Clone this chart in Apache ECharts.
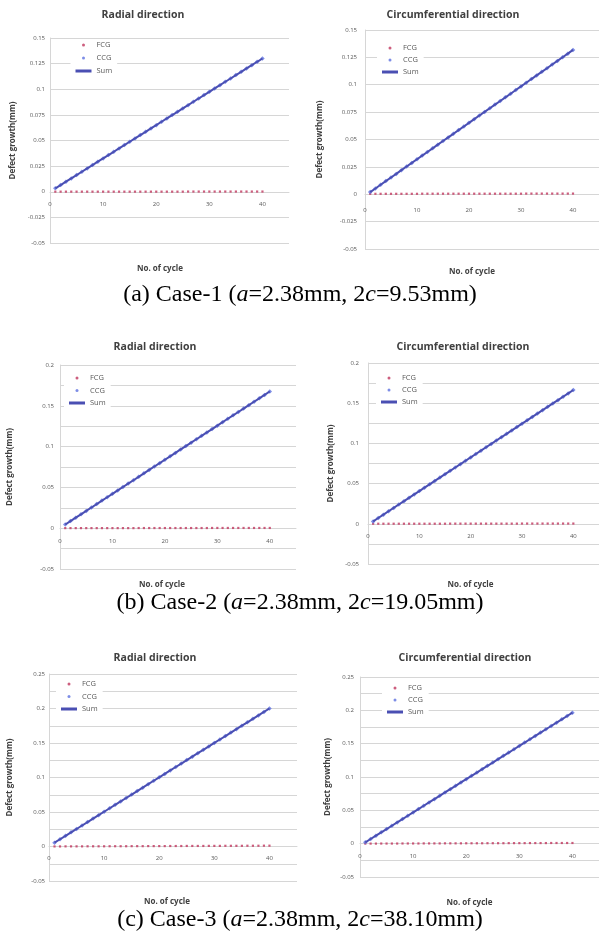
<!DOCTYPE html>
<html><head><meta charset="utf-8">
<script src="https://cdn.jsdelivr.net/npm/echarts@6/dist/echarts.min.js"></script>
<style>html,body{margin:0;padding:0;background:#fff}#c{width:599px;height:933px}</style>
</head><body><div id="c"></div>
<script>
// ---------- data ----------
const cycles = [1,2,3,4,5,6,7,8,9,10,11,12,13,14,15,16,17,18,19,20,21,22,23,24,25,26,27,28,29,30,31,32,33,34,35,36,37,38,39,40];
const legendNames = ['FCG','CCG','Sum'];
const panelTitles = ['Radial direction','Circumferential direction','Radial direction','Circumferential direction','Radial direction','Circumferential direction'];
const xAxisName = 'No. of cycle';
const yAxisName = 'Defect growth(mm)';
const xTickLabels = ['0','10','20','30','40'];
const yMinVals = [-0.05,-0.05,-0.05,-0.05,-0.05,-0.05];
const yMaxVals = [0.15,0.15,0.2,0.2,0.25,0.25];
const yLabelSteps = [0.025,0.025,0.05,0.05,0.05,0.05];
const captionCase = ['(a) Case-1 (','(b) Case-2 (','(c) Case-3 ('];
const captionA = ['=2.38mm, 2','=2.38mm, 2','=2.38mm, 2'];
const captionC = ['=9.53mm)','=19.05mm)','=38.10mm)'];

// Case-1 radial
const fcgR1 = [0.0001,0.0001,0.0001,0.0001,0.0001,0.0001,0.0001,0.0001,0.0001,0.0001,0.0001,0.0001,0.0001,0.0001,0.0001,0.0001,0.0001,0.0001,0.0001,0.0001,0.0001,0.0001,0.0001,0.0001,0.0001,0.0002,0.0002,0.0002,0.0002,0.0002,0.0002,0.0002,0.0002,0.0002,0.0002,0.0002,0.0002,0.0002,0.0002,0.0002];
const ccgR1 = [0.0033,0.0065,0.0098,0.013,0.0163,0.0195,0.0228,0.026,0.0293,0.0325,0.0358,0.039,0.0423,0.0455,0.0488,0.052,0.0553,0.0585,0.0618,0.065,0.0683,0.0715,0.0748,0.078,0.0813,0.0845,0.0878,0.091,0.0943,0.0975,0.1008,0.104,0.1073,0.1105,0.1138,0.117,0.1203,0.1235,0.1268,0.13];
const sumR1 = [0.0033,0.0065,0.0098,0.013,0.0163,0.0195,0.0228,0.026,0.0293,0.0325,0.0358,0.039,0.0423,0.0455,0.0488,0.052,0.0553,0.0585,0.0618,0.065,0.0683,0.0715,0.0748,0.078,0.0813,0.0845,0.0878,0.091,0.0943,0.0975,0.1008,0.104,0.1073,0.1105,0.1138,0.117,0.1203,0.1235,0.1268,0.13];
// Case-1 circumferential
const fcgC1 = [0.0004,0.0004,0.0004,0.0004,0.0004,0.0004,0.0004,0.0004,0.0004,0.0004,0.0005,0.0005,0.0005,0.0005,0.0005,0.0005,0.0005,0.0005,0.0005,0.0005,0.0005,0.0005,0.0005,0.0005,0.0005,0.0005,0.0005,0.0005,0.0005,0.0005,0.0006,0.0006,0.0006,0.0006,0.0006,0.0006,0.0006,0.0006,0.0006,0.0006];
const ccgC1 = [0.002,0.0053,0.0087,0.012,0.0153,0.0186,0.022,0.0253,0.0286,0.032,0.0353,0.0386,0.0419,0.0453,0.0486,0.0519,0.0552,0.0586,0.0619,0.0652,0.0686,0.0719,0.0752,0.0785,0.0819,0.0852,0.0885,0.0918,0.0952,0.0985,0.1018,0.1052,0.1085,0.1118,0.1151,0.1185,0.1218,0.1251,0.1284,0.1318];
const sumC1 = [0.002,0.0053,0.0087,0.012,0.0153,0.0186,0.022,0.0253,0.0286,0.032,0.0353,0.0386,0.0419,0.0453,0.0486,0.0519,0.0552,0.0586,0.0619,0.0652,0.0686,0.0719,0.0752,0.0785,0.0819,0.0852,0.0885,0.0918,0.0952,0.0985,0.1018,0.1052,0.1085,0.1118,0.1151,0.1185,0.1218,0.1251,0.1284,0.1318];
// Case-2 radial
const fcgR2 = [0.0001,0.0001,0.0001,0.0001,0.0001,0.0001,0.0001,0.0001,0.0001,0.0001,0.0001,0.0001,0.0001,0.0001,0.0002,0.0002,0.0002,0.0002,0.0002,0.0002,0.0002,0.0002,0.0002,0.0002,0.0002,0.0002,0.0002,0.0002,0.0003,0.0003,0.0003,0.0003,0.0003,0.0003,0.0003,0.0003,0.0003,0.0003,0.0003,0.0003];
const ccgR2 = [0.0045,0.0087,0.0129,0.017,0.0212,0.0254,0.0296,0.0338,0.0379,0.0421,0.0463,0.0505,0.0547,0.0588,0.063,0.0672,0.0714,0.0756,0.0797,0.0839,0.0881,0.0923,0.0965,0.1006,0.1048,0.109,0.1132,0.1174,0.1215,0.1257,0.1299,0.1341,0.1383,0.1424,0.1466,0.1508,0.155,0.1592,0.1633,0.1675];
const sumR2 = [0.0045,0.0087,0.0129,0.017,0.0212,0.0254,0.0296,0.0338,0.0379,0.0421,0.0463,0.0505,0.0547,0.0588,0.063,0.0672,0.0714,0.0756,0.0797,0.0839,0.0881,0.0923,0.0965,0.1006,0.1048,0.109,0.1132,0.1174,0.1215,0.1257,0.1299,0.1341,0.1383,0.1424,0.1466,0.1508,0.155,0.1592,0.1633,0.1675];
// Case-2 circumferential
const fcgC2 = [0.0001,0.0001,0.0001,0.0001,0.0001,0.0001,0.0001,0.0001,0.0001,0.0001,0.0001,0.0001,0.0001,0.0001,0.0001,0.0002,0.0002,0.0002,0.0002,0.0002,0.0002,0.0002,0.0002,0.0002,0.0002,0.0002,0.0002,0.0002,0.0002,0.0003,0.0003,0.0003,0.0003,0.0003,0.0003,0.0003,0.0003,0.0003,0.0003,0.0003];
const ccgC2 = [0.003,0.0072,0.0114,0.0156,0.0198,0.024,0.0281,0.0323,0.0365,0.0407,0.0449,0.0491,0.0533,0.0575,0.0617,0.0659,0.07,0.0742,0.0784,0.0826,0.0868,0.091,0.0952,0.0994,0.1036,0.1078,0.1119,0.1161,0.1203,0.1245,0.1287,0.1329,0.1371,0.1413,0.1455,0.1497,0.1538,0.158,0.1622,0.1664];
const sumC2 = [0.003,0.0072,0.0114,0.0156,0.0198,0.024,0.0281,0.0323,0.0365,0.0407,0.0449,0.0491,0.0533,0.0575,0.0617,0.0659,0.07,0.0742,0.0784,0.0826,0.0868,0.091,0.0952,0.0994,0.1036,0.1078,0.1119,0.1161,0.1203,0.1245,0.1287,0.1329,0.1371,0.1413,0.1455,0.1497,0.1538,0.158,0.1622,0.1664];
// Case-3 radial
const fcgR3 = [0.0001,0.0001,0.0002,0.0002,0.0002,0.0002,0.0003,0.0003,0.0003,0.0003,0.0004,0.0004,0.0004,0.0004,0.0005,0.0005,0.0005,0.0006,0.0006,0.0006,0.0006,0.0007,0.0007,0.0007,0.0008,0.0008,0.0008,0.0008,0.0009,0.0009,0.0009,0.001,0.001,0.001,0.001,0.0011,0.0011,0.0011,0.0012,0.0012];
const ccgR3 = [0.0055,0.0105,0.0155,0.0205,0.0254,0.0304,0.0354,0.0404,0.0454,0.0504,0.0554,0.0604,0.0653,0.0703,0.0753,0.0803,0.0853,0.0903,0.0953,0.1003,0.1052,0.1102,0.1152,0.1202,0.1252,0.1302,0.1352,0.1401,0.1451,0.1501,0.1551,0.1601,0.1651,0.1701,0.1751,0.18,0.185,0.19,0.195,0.2];
const sumR3 = [0.0055,0.0105,0.0155,0.0205,0.0254,0.0304,0.0354,0.0404,0.0454,0.0504,0.0554,0.0604,0.0653,0.0703,0.0753,0.0803,0.0853,0.0903,0.0953,0.1003,0.1052,0.1102,0.1152,0.1202,0.1252,0.1302,0.1352,0.1401,0.1451,0.1501,0.1551,0.1601,0.1651,0.1701,0.1751,0.18,0.185,0.19,0.195,0.2];
// Case-3 circumferential
const fcgC3 = [0.0001,0.0001,0.0001,0.0002,0.0002,0.0002,0.0002,0.0003,0.0003,0.0003,0.0003,0.0004,0.0004,0.0004,0.0004,0.0005,0.0005,0.0005,0.0005,0.0006,0.0006,0.0006,0.0006,0.0007,0.0007,0.0007,0.0007,0.0008,0.0008,0.0008,0.0008,0.0009,0.0009,0.0009,0.0009,0.001,0.001,0.001,0.001,0.001];
const ccgC3 = [0.002,0.007,0.012,0.017,0.0219,0.0269,0.0319,0.0369,0.0419,0.0469,0.0519,0.0569,0.0618,0.0668,0.0718,0.0768,0.0818,0.0868,0.0918,0.0968,0.1017,0.1067,0.1117,0.1167,0.1217,0.1267,0.1317,0.1366,0.1416,0.1466,0.1516,0.1566,0.1616,0.1666,0.1716,0.1765,0.1815,0.1865,0.1915,0.1965];
const sumC3 = [0.002,0.007,0.012,0.017,0.0219,0.0269,0.0319,0.0369,0.0419,0.0469,0.0519,0.0569,0.0618,0.0668,0.0718,0.0768,0.0818,0.0868,0.0918,0.0968,0.1017,0.1067,0.1117,0.1167,0.1217,0.1267,0.1317,0.1366,0.1416,0.1466,0.1516,0.1566,0.1616,0.1666,0.1716,0.1765,0.1815,0.1865,0.1915,0.1965];

const fcgAll = [fcgR1, fcgC1, fcgR2, fcgC2, fcgR3, fcgC3];
const ccgAll = [ccgR1, ccgC1, ccgR2, ccgC2, ccgR3, ccgC3];
const sumAll = [sumR1, sumC1, sumR2, sumC2, sumR3, sumC3];

// ---------- layout / style ----------
const LAY = [
  {left:50,  top:38,  width:239, height:205, tx:143, ty:15,  lx:70.5, ly:39.5,  lg:2,   xnGap:73, xnPad:19, ynGap:33, ylm:5, xlm:10},
  {left:365, top:30,  width:236, height:219, tx:453, ty:15,  lx:377,  ly:42.5,  lg:1,   xnGap:73, xnPad:20, ynGap:41, ylm:8, xlm:13},
  {left:60,  top:365, width:236, height:204, tx:155, ty:347, lx:64,   ly:372.5, lg:1.5, xnGap:53, xnPad:32, ynGap:46, ylm:6, xlm:10},
  {left:368, top:363, width:234, height:201, tx:463, ty:347, lx:376,  ly:372.5, lg:1,   xnGap:57, xnPad:26, ynGap:33, ylm:9, xlm:9},
  {left:49,  top:674, width:248, height:207, tx:155, ty:658, lx:56,   ly:678.5, lg:1.5, xnGap:51, xnPad:12, ynGap:35, ylm:4, xlm:9},
  {left:360, top:677, width:246, height:200, tx:465, ty:658, lx:382,  ly:682.5, lg:1,   xnGap:55, xnPad:20, ynGap:28, ylm:6, xlm:10}
];
const CAP_Y = [295, 603, 920];
const FONT = 'Open Sans';
const C_FCG = '#c0365e', C_CCG = '#5d70e0', C_SUM = '#4a4fb3';
const C_GRID = '#d6d6d6', C_TXT = '#595959', C_TTL = '#404040';

function zip(xs, ys){ return xs.map((x,i)=>[x, ys[i]]); }
function yFmt(step){
  return function(v){
    const k = Math.round(v/step);
    return Math.abs(k*step - v) < 1e-9 ? String(+v.toFixed(3)) : '';
  };
}
function xFmt(v){
  const s = String(Math.round(v));
  return xTickLabels.indexOf(s) >= 0 ? s : '';
}

const grids=[], xAxes=[], yAxes=[], series=[], legends=[], graphics=[];
LAY.forEach((p,i)=>{
  grids.push({left:p.left, top:p.top, width:p.width, height:p.height, containLabel:false});
  // place the x axis where y = 0 (the axis crosses the value axis at zero)
  const zeroOffset = -p.height * (0 - yMinVals[i]) / (yMaxVals[i] - yMinVals[i]);
  xAxes.push({
    type:'value', gridIndex:i, min:0, max:45, interval:10, offset:zeroOffset,
    name:xAxisName, nameLocation:'middle', nameGap:p.xnGap,
    nameTextStyle:{fontFamily:FONT, fontSize:8, fontWeight:'bold', color:C_TTL, padding:[0,p.xnPad,0,0]},
    axisLine:{show:true, onZero:false, lineStyle:{color:C_GRID, width:1}},
    axisTick:{show:false},
    axisLabel:{fontFamily:FONT, fontSize:6, color:C_TXT, margin:p.xlm, showMaxLabel:false, formatter:xFmt},
    splitLine:{show:false}
  });
  yAxes.push({
    type:'value', gridIndex:i, min:yMinVals[i], max:yMaxVals[i], interval:0.025,
    name:yAxisName, nameLocation:'middle', nameGap:p.ynGap, nameRotate:90,
    nameTextStyle:{fontFamily:FONT, fontSize:8, fontWeight:'bold', color:C_TTL},
    axisLine:{show:true, lineStyle:{color:C_GRID, width:1}},
    axisTick:{show:false},
    axisLabel:{fontFamily:FONT, fontSize:6, color:C_TXT, margin:p.ylm, formatter:yFmt(yLabelSteps[i])},
    splitLine:{show:true, lineStyle:{color:C_GRID, width:1}}
  });
  series.push({type:'scatter', name:legendNames[0], xAxisIndex:i, yAxisIndex:i, data:zip(cycles, fcgAll[i]),
    symbol:'rect', symbolSize:2.2, itemStyle:{color:C_FCG}, silent:true});
  series.push({type:'scatter', name:legendNames[1], xAxisIndex:i, yAxisIndex:i, data:zip(cycles, ccgAll[i]),
    symbol:'diamond', symbolSize:4.5, itemStyle:{color:C_CCG}, silent:true});
  series.push({type:'line', name:legendNames[2], xAxisIndex:i, yAxisIndex:i, data:zip(cycles, sumAll[i]),
    symbol:'none', showSymbol:false, lineStyle:{color:C_SUM, width:2}, itemStyle:{color:C_SUM}, silent:true});
  legends.push({
    orient:'vertical', left:p.lx, top:p.ly, itemWidth:16, itemHeight:3, itemGap:p.lg,
    padding:[0,5,1,5], backgroundColor:'#ffffff', selectedMode:false,
    textStyle:{fontFamily:FONT, fontSize:7.5, color:C_TXT, lineHeight:11},
    data:[{name:legendNames[0], icon:'circle'},{name:legendNames[1], icon:'circle'},{name:legendNames[2], icon:'rect'}]
  });
  graphics.push({type:'text', x:p.tx, y:p.ty, style:{text:panelTitles[i], fontFamily:FONT, fontSize:10.5, fontWeight:'bold', fill:C_TTL, align:'center', verticalAlign:'middle'}});
});
CAP_Y.forEach((y,k)=>{
  graphics.push({type:'text', x:300, y:y, style:{
    text: captionCase[k] + '{i|a}' + captionA[k] + '{i|c}' + captionC[k],
    fontFamily:'Liberation Serif', fontSize:24, fill:'#000', align:'center', verticalAlign:'middle',
    rich:{i:{fontFamily:'Liberation Serif', fontSize:24, fontStyle:'italic', fill:'#000'}}
  }});
});

const chart = echarts.init(document.getElementById('c'), null, {renderer:'canvas'});
chart.setOption({
  backgroundColor:'#ffffff', animation:false,
  textStyle:{fontFamily:FONT},
  grid:grids, xAxis:xAxes, yAxis:yAxes, series:series, legend:legends, graphic:graphics
});
</script></body></html>
